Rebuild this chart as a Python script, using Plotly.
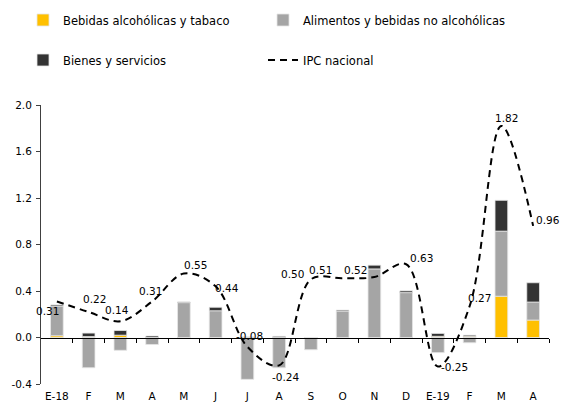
import plotly.graph_objects as go

months = ["E-18", "F", "M", "A", "M", "J", "J", "A", "S", "O", "N", "D", "E-19", "F", "M", "A"]
bebidas = [0.015, 0.008, 0.02, 0.0, -0.004, -0.004, 0.0, 0.0, 0.0, 0.0, 0.0, 0.0, 0.01, 0.01, 0.355, 0.15]
alimentos = [0.255, -0.26, -0.11, -0.06, 0.30, 0.23, -0.36, -0.26, -0.105, 0.228, 0.59, 0.386, -0.13, -0.045, 0.56, 0.155]
bienes = [0.01, 0.03, 0.04, 0.013, 0.006, 0.03, 0.005, 0.01, 0.0, 0.008, 0.032, 0.015, 0.025, 0.01, 0.265, 0.166]
ipc = [0.31, 0.22, 0.14, 0.31, 0.55, 0.44, -0.08, -0.24, 0.50, 0.51, 0.52, 0.63, -0.25, 0.27, 1.82, 0.96]

y_ticks = [-0.4, 0.0, 0.4, 0.8, 1.2, 1.6, 2.0]

# label offsets (px, x right / y up) for the IPC data labels
label_offsets = [(-9, -10), (6, 13), (-3, 11), (-2, 10), (12, 9), (11, -2), (2, 11), (6, -12),
                 (-18, 5), (-22, 8), (-19, 7), (15, 6), (17, 0), (10, 8), (5, 8), (15, 6)]

x = list(range(len(months)))
FONT = "DejaVu Sans"
edge = dict(color="#E6E6E6", width=0.8)

fig = go.Figure()
fig.add_trace(go.Bar(x=x, y=bebidas, name="Bebidas alcohólicas y tabaco", showlegend=True,
                     marker=dict(color="#FFC000", line=edge), legend="legend"))
fig.add_trace(go.Bar(x=x, y=alimentos, name="Alimentos y bebidas no alcohólicas", showlegend=True,
                     marker=dict(color="#A5A5A5", line=edge), legend="legend2"))
fig.add_trace(go.Bar(x=x, y=bienes, name="Bienes y servicios", showlegend=True,
                     marker=dict(color="#333333", line=edge), legend="legend3"))
fig.add_trace(go.Scatter(x=x, y=ipc, name="IPC nacional", mode="lines", showlegend=True,
                         line=dict(color="black", width=2, dash="7px,5px", shape="spline", smoothing=1.0),
                         legend="legend4"))

for xi, v, (dx, dy) in zip(x, ipc, label_offsets):
    fig.add_annotation(x=xi, y=v, text=f"{v:.2f}", showarrow=False,
                       xshift=dx, yshift=dy, font=dict(family=FONT, size=10.5, color="black"))

W, H = 563, 403
L, R, T, B = 41, 14, 105, 19
pw, ph = W - L - R, H - T - B

def px2paper_x(px):
    return (px - L) / pw

def px2paper_y(py):
    return (H - B - py) / ph

legend_common = dict(orientation="h", xanchor="left", yanchor="middle",
                     font=dict(family=FONT, size=11.5, color="black"),
                     bgcolor="rgba(0,0,0,0)", itemclick=False)

fig.update_layout(
    template="none",
    showlegend=True,
    width=W, height=H,
    margin=dict(l=L, r=R, t=T, b=B, autoexpand=False),
    paper_bgcolor="white", plot_bgcolor="white",
    barmode="relative", bargap=0.6,
    font=dict(family=FONT, size=10.5, color="black"),
    legend=dict(x=px2paper_x(23), y=px2paper_y(20), **legend_common),
    legend2=dict(x=px2paper_x(263), y=px2paper_y(20), **legend_common),
    legend3=dict(x=px2paper_x(23), y=px2paper_y(60), **legend_common),
    legend4=dict(x=px2paper_x(263), y=px2paper_y(60), **legend_common),
    xaxis=dict(range=[-0.5, len(months) - 0.5], tickvals=x, ticktext=months,
               ticks="", showgrid=False, zeroline=False, automargin=False,
               showline=True, linecolor="black", linewidth=1,
               anchor="free", position=(0 - y_ticks[0]) / (y_ticks[-1] - y_ticks[0]),
               ticklabelstandoff=49,
               minor=dict(tickvals=[i + 0.5 for i in x], ticks="outside", ticklen=4,
                          tickcolor="black", showgrid=False),
               tickfont=dict(family=FONT, size=10.5, color="black")),
    yaxis=dict(range=[y_ticks[0], y_ticks[-1]], tickvals=y_ticks,
               ticktext=[f"{v:.1f}" for v in y_ticks],
               ticks="outside", ticklen=4, tickcolor="#404040", automargin=False,
               showline=True, linecolor="#404040", linewidth=1,
               showgrid=False, zeroline=False, ticklabelstandoff=2,
               tickfont=dict(family=FONT, size=10.5, color="black")),
)

fig.write_html("out.html", config={"displayModeBar": False, "staticPlot": True},
               post_script="document.body.style.margin='0';document.body.style.overflow='hidden';")
